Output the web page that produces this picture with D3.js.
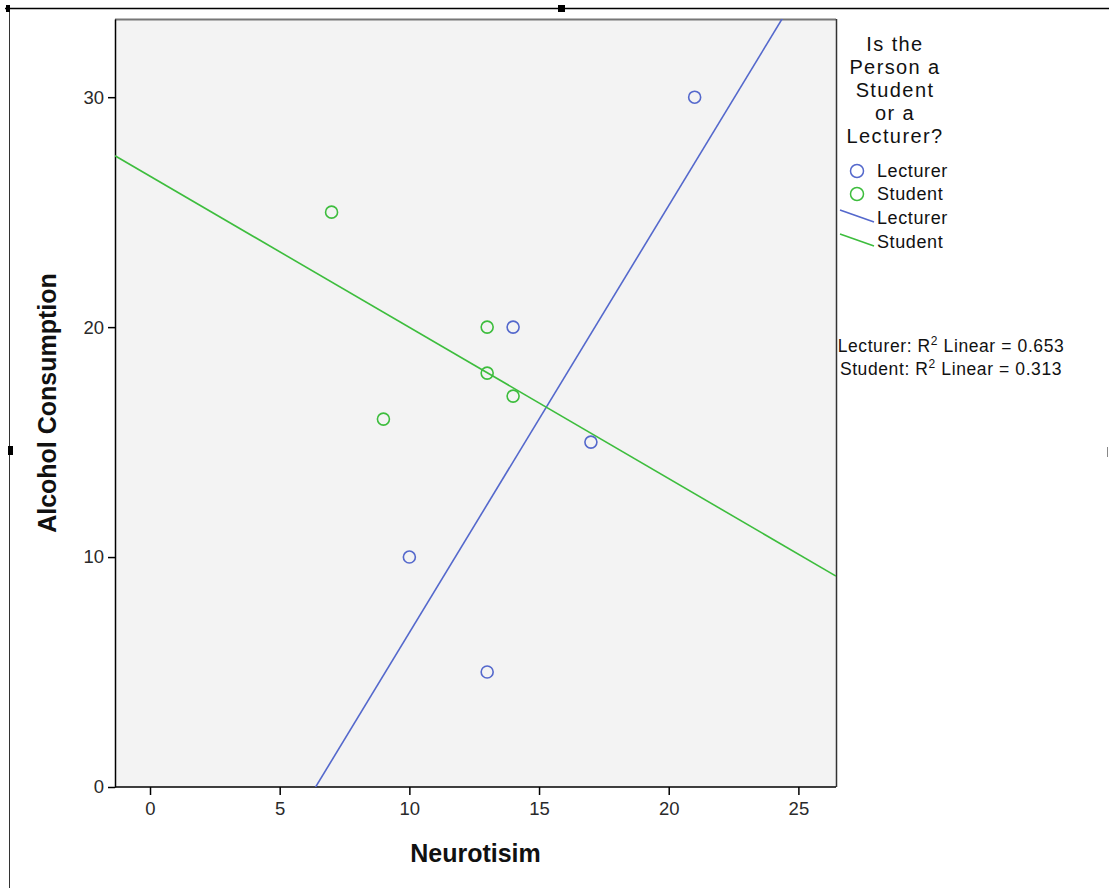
<!DOCTYPE html>
<html>
<head>
<meta charset="utf-8">
<script src="https://cdn.jsdelivr.net/npm/d3@7"></script>
<style>
  body { margin: 0; background: #fff; }
  svg { display: block; font-family: "Liberation Sans", Arial, sans-serif; }
</style>
</head>
<body>
<div id="chart"></div>
<script>
// data
const groups = ["Lecturer", "Student"];
const groupColors = ["#5468cc", "#3dbd3d"];
const lecturerNeuro = [21, 14, 17, 10, 13];
const lecturerAlcohol = [30, 20, 15, 10, 5];
const studentNeuro = [7, 13, 13, 14, 9];
const studentAlcohol = [25, 20, 18, 17, 16];
const xTicks = [0, 5, 10, 15, 20, 25];
const yTicks = [0, 10, 20, 30];
const legendTitle = ["Is the", "Person a", "Student", "or a", "Lecturer?"];

const series = [
  {name: groups[0], color: groupColors[0], xs: lecturerNeuro, ys: lecturerAlcohol},
  {name: groups[1], color: groupColors[1], xs: studentNeuro, ys: studentAlcohol}
];

function fit(xs, ys){
  const mx = d3.mean(xs), my = d3.mean(ys);
  let sxx = 0, sxy = 0, syy = 0;
  for (let i = 0; i < xs.length; i++){
    sxx += (xs[i]-mx)*(xs[i]-mx);
    sxy += (xs[i]-mx)*(ys[i]-my);
    syy += (ys[i]-my)*(ys[i]-my);
  }
  const slope = sxy/sxx;
  return {slope: slope, intercept: my - slope*mx, r2: sxy*sxy/(sxx*syy)};
}
series.forEach(s => s.fit = fit(s.xs, s.ys));

const W = 1109, H = 888;
const plot = {left: 115, right: 836, top: 19, bottom: 787};

const svg = d3.select("#chart").append("svg").attr("width", W).attr("height", H);

// outer frame of the output viewer
svg.append("line").attr("x1", 5).attr("x2", W).attr("y1", 8.5).attr("y2", 8.5)
  .attr("stroke", "#000").attr("stroke-width", 1.5);
svg.append("line").attr("x1", 9.5).attr("x2", 9.5).attr("y1", 8).attr("y2", H)
  .attr("stroke", "#333").attr("stroke-width", 1);
svg.append("rect").attr("x", 6).attr("y", 5).attr("width", 4).attr("height", 7).attr("fill", "#000");
svg.append("rect").attr("x", 558).attr("y", 5).attr("width", 7).attr("height", 7).attr("fill", "#000");
svg.append("rect").attr("x", 8).attr("y", 446).attr("width", 5).attr("height", 9).attr("fill", "#000");
svg.append("rect").attr("x", 1107).attr("y", 447).attr("width", 1).attr("height", 10).attr("fill", "#888");

const x = d3.scaleLinear().domain([-1.35, 26.45]).range([plot.left, plot.right]);
const y = d3.scaleLinear().domain([0, 33.4]).range([plot.bottom, plot.top]);

svg.append("defs").append("clipPath").attr("id", "clip")
  .append("rect").attr("x", plot.left).attr("y", plot.top)
  .attr("width", plot.right - plot.left).attr("height", plot.bottom - plot.top);

svg.append("rect").attr("x", plot.left).attr("y", plot.top)
  .attr("width", plot.right - plot.left).attr("height", plot.bottom - plot.top)
  .attr("fill", "#f3f3f3");

// plot frame
svg.append("line").attr("x1", plot.left).attr("x2", plot.right).attr("y1", plot.top + 0.5).attr("y2", plot.top + 0.5)
  .attr("stroke", "#777").attr("stroke-width", 2);
svg.append("line").attr("x1", plot.right + 0.5).attr("x2", plot.right + 0.5).attr("y1", plot.top).attr("y2", plot.bottom)
  .attr("stroke", "#333").attr("stroke-width", 1.5);

// axes
const xAxis = svg.append("g").attr("transform", `translate(0,${plot.bottom})`)
  .call(d3.axisBottom(x).tickValues(xTicks).tickSize(8).tickPadding(7).tickSizeOuter(0));
const yAxis = svg.append("g").attr("transform", `translate(${plot.left},0)`)
  .call(d3.axisLeft(y).tickValues(yTicks).tickSize(7).tickPadding(4).tickSizeOuter(0));
[xAxis, yAxis].forEach(a => {
  a.select(".domain").attr("stroke", "#000").attr("stroke-width", 1.5);
  a.selectAll(".tick line").attr("stroke", "#000").attr("stroke-width", 1.5);
  a.selectAll(".tick text").attr("font-family", "Liberation Sans, Arial, sans-serif")
    .attr("font-size", 18.5).attr("fill", "#2a2a2a");
});
xAxis.select(".domain").attr("d", `M${plot.left},0H${plot.right}`);

svg.append("text").attr("x", (plot.left + plot.right)/2).attr("y", 862)
  .attr("text-anchor", "middle").attr("font-size", 25).attr("font-weight", "bold")
  .attr("fill", "#111").text("Neurotisim");
svg.append("text").attr("transform", `translate(56,${(plot.top + plot.bottom)/2}) rotate(-90)`)
  .attr("text-anchor", "middle").attr("font-size", 25).attr("font-weight", "bold")
  .attr("fill", "#111").text("Alcohol Consumption");

// fit lines
const fitLayer = svg.append("g").attr("clip-path", "url(#clip)");
const x0 = x.domain()[0], x1 = x.domain()[1];
series.forEach(s => {
  fitLayer.append("line")
    .attr("x1", x(x0)).attr("y1", y(s.fit.intercept + s.fit.slope*x0))
    .attr("x2", x(x1)).attr("y2", y(s.fit.intercept + s.fit.slope*x1))
    .attr("stroke", s.color).attr("stroke-width", 1.6);
});

// points
series.forEach(s => {
  svg.append("g").selectAll("circle")
    .data(s.xs.map((v, i) => [v, s.ys[i]]))
    .join("circle")
    .attr("cx", d => x(d[0])).attr("cy", d => y(d[1])).attr("r", 6)
    .attr("fill", "none").attr("stroke", s.color).attr("stroke-width", 1.6);
});

// legend
const lg = svg.append("g").attr("fill", "#111");
lg.selectAll("text.title").data(legendTitle).join("text").attr("class", "title")
  .attr("x", 895).attr("y", (d, i) => 51 + i*23).attr("text-anchor", "middle")
  .attr("font-size", 20).attr("letter-spacing", 1.4).text(d => d);
series.forEach((s, i) => {
  lg.append("circle").attr("cx", 857).attr("cy", 171 + i*23).attr("r", 6.5)
    .attr("fill", "none").attr("stroke", s.color).attr("stroke-width", 1.5);
  lg.append("text").attr("x", 877).attr("y", 177 + i*23).attr("font-size", 18)
    .attr("letter-spacing", 0.6).text(s.name);
  lg.append("line").attr("x1", 840).attr("y1", 210 + i*24).attr("x2", 874).attr("y2", 222 + i*24)
    .attr("stroke", s.color).attr("stroke-width", 1.6);
  lg.append("text").attr("x", 877).attr("y", 224 + i*24).attr("font-size", 18)
    .attr("letter-spacing", 0.6).text(s.name);
});

// R squared notes
const rg = svg.append("g").attr("font-size", 17.5).attr("fill", "#111").attr("letter-spacing", 0.6);
series.forEach((s, i) => {
  const t = rg.append("text").attr("x", 951).attr("y", 352 + i*23).attr("text-anchor", "middle");
  t.append("tspan").text(s.name + ": R");
  t.append("tspan").attr("dy", -7).attr("font-size", 12).text("2");
  t.append("tspan").attr("dy", 7).text(" Linear = " + d3.format(".3f")(s.fit.r2));
});
</script>
</body>
</html>
